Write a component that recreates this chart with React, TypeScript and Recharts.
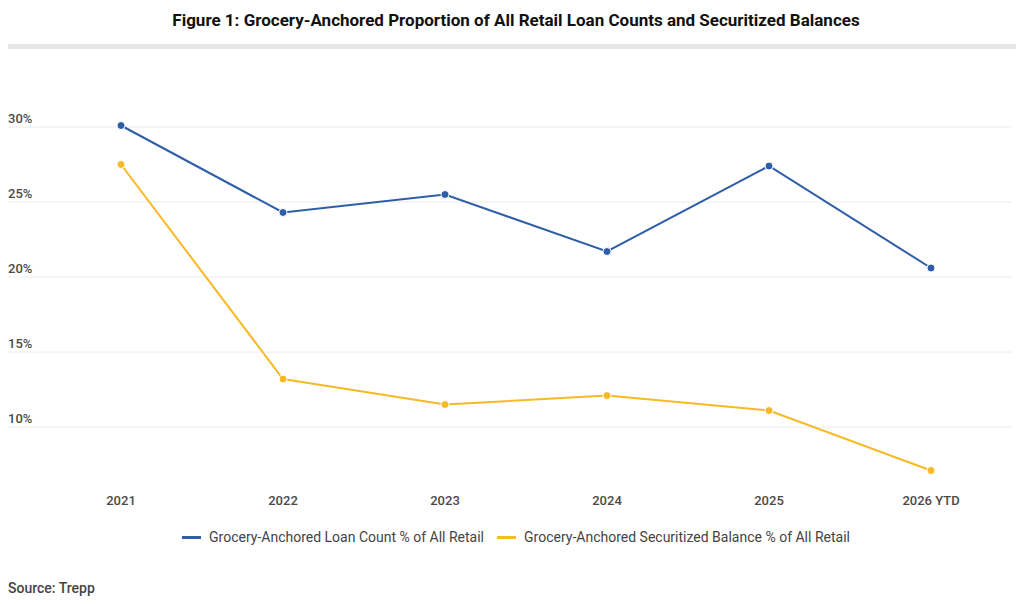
import { CartesianGrid, Line, LineChart, XAxis, YAxis } from 'recharts';

const YEARS = ['2021', '2022', '2023', '2024', '2025', '2026 YTD'];
const LOAN_COUNT_PCT = [30.1, 24.3, 25.5, 21.7, 27.4, 20.6];
const BALANCE_PCT = [27.5, 13.2, 11.5, 12.1, 11.1, 7.1];
const Y_TICKS = [10, 15, 20, 25, 30];

const SERIES = [
  { key: 'loanCount', name: 'Grocery-Anchored Loan Count % of All Retail', color: '#2f5ea8' },
  { key: 'balance', name: 'Grocery-Anchored Securitized Balance % of All Retail', color: '#f7b924' }
];

const data = YEARS.map((year, i) => ({
  year,
  loanCount: LOAN_COUNT_PCT[i],
  balance: BALANCE_PCT[i]
}));

const FONT = 'Roboto, "Noto Sans", sans-serif';
const TICK_COLOR = '#4a4a4a';

function YTick({ y, payload }: any) {
  return (
    <text x={0} y={y - 4} fill={TICK_COLOR} fontSize={13} fontWeight={500} fontFamily={FONT} textAnchor="start">
      {payload.value}%
    </text>
  );
}

function XTick({ x, y, payload }: any) {
  return (
    <text x={x} y={y} dy={18} fill={TICK_COLOR} fontSize={13} fontWeight={500} fontFamily={FONT} textAnchor="middle">
      {payload.value}
    </text>
  );
}

export default function App() {
  return (
    <div style={{ position: 'relative', width: 1016, height: 596, fontFamily: FONT }}>
      <div
        style={{
          position: 'absolute',
          top: 2,
          left: 0,
          width: 1016,
          textAlign: 'center',
          fontSize: 17,
          fontWeight: 700,
          color: '#111',
          lineHeight: '20px'
        }}
      >
        Figure 1: Grocery-Anchored Proportion of All Retail Loan Counts and Securitized Balances
      </div>
      <div style={{ position: 'absolute', top: 36, left: 0, width: 1014, height: 5, background: '#e6e6e6' }} />

      <div style={{ position: 'absolute', top: 0, left: 0 }}>
        <LineChart width={1008} height={596} data={data} margin={{ top: 89, right: 4, bottom: 87, left: 0 }}>
          <CartesianGrid vertical={false} stroke="#ececec" syncWithTicks />
          <XAxis
            dataKey="year"
            scale="point"
            padding={{ left: 113, right: 81 }}
            axisLine={false}
            tickLine={false}
            tickSize={0}
            tickMargin={0}
            height={30}
            tick={<XTick />}
            interval={0}
          />
          <YAxis
            domain={[6, 32]}
            ticks={Y_TICKS}
            mirror
            axisLine={false}
            tickLine={false}
            tick={<YTick />}
            allowDataOverflow
          />
          {SERIES.map((s) => (
            <Line
              key={s.key}
              dataKey={s.key}
              name={s.name}
              type="linear"
              stroke={s.color}
              strokeWidth={2}
              dot={{ r: 4, fill: s.color, stroke: '#fff', strokeWidth: 1 }}
              activeDot={false}
              isAnimationActive={false}
            />
          ))}
        </LineChart>
      </div>

      <div
        style={{
          position: 'absolute',
          top: 520,
          left: 0,
          width: 1016,
          display: 'flex',
          justifyContent: 'center',
          gap: 13,
          fontSize: 14,
          color: '#444',
          lineHeight: '18px'
        }}
      >
        {SERIES.map((s) => (
          <div key={s.key} style={{ display: 'flex', alignItems: 'center' }}>
            <span style={{ display: 'inline-block', width: 19, height: 3, background: s.color, marginRight: 8 }} />
            <span>{s.name}</span>
          </div>
        ))}
      </div>

      <div style={{ position: 'absolute', top: 571, left: 0, fontSize: 14, fontWeight: 500, color: '#444', lineHeight: '18px' }}>
        Source: Trepp
      </div>
    </div>
  );
}
